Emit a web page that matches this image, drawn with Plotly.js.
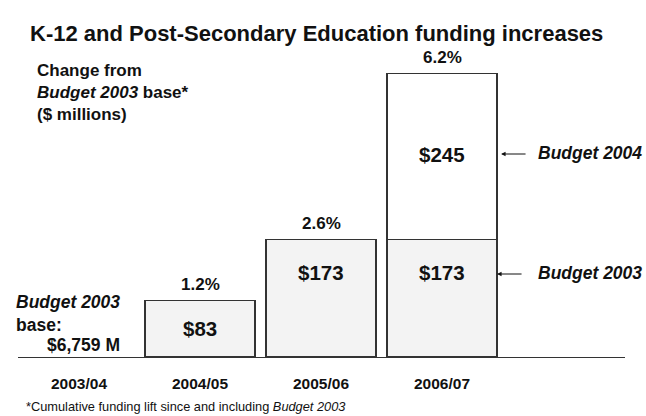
<!DOCTYPE html>
<html>
<head>
<meta charset="utf-8">
<script src="https://cdn.plot.ly/plotly-3.0.1.min.js"></script>
<style>html,body{margin:0;padding:0;background:#fff;}#chart{width:646px;height:416px;}</style>
</head>
<body>
<div id="chart"></div>
<script>
// ---- data ----
var categories = ['2003/04', '2004/05', '2005/06', '2006/07'];
var budget2003 = [null, 83, 173, 173];
var budget2004 = [null, null, null, 245];
var percentLabels = ['', '1.2%', '2.6%', '6.2%'];
var baseLabel = '$6,759 M';

// ---- layout helpers (pixel -> paper) ----
var W = 646, H = 416;
var M = {l: 18, r: 21, t: 40, b: 59};
var PW = W - M.l - M.r, PH = H - M.t - M.b;
function px(x) { return (x - M.l) / PW; }
function py(y) { return (H - M.b - y) / PH; }

var FONT = 'Liberation Sans, Arial, sans-serif';
var xs = categories.map(function (c, i) { return i; });
var barWidth = 0.91;

var traces = [
  {
    type: 'bar', x: xs, y: budget2003, width: barWidth, name: 'Budget 2003',
    marker: {color: '#f3f3f3', line: {color: '#333333', width: 1.2}},
    hoverinfo: 'none'
  },
  {
    type: 'bar', x: xs, y: budget2004, width: barWidth, name: 'Budget 2004',
    marker: {color: '#ffffff', line: {color: '#333333', width: 1.2}},
    hoverinfo: 'none'
  }
];

var ann = [];
// dollar labels: centred in short bars, near the top in tall ones
budget2003.forEach(function (v, i) {
  if (v == null) return;
  ann.push({x: xs[i], y: Math.max(v / 2, v - 48), xref: 'x', yref: 'y', yanchor: 'middle',
    text: '<b>$' + v + '</b>', showarrow: false, font: {family: FONT, size: 20.5, color: '#111'}});
});
budget2004.forEach(function (v, i) {
  if (v == null) return;
  ann.push({x: xs[i], y: budget2003[i] + v / 2, xref: 'x', yref: 'y', yanchor: 'middle', yshift: 2,
    text: '<b>$' + v + '</b>', showarrow: false, font: {family: FONT, size: 20.5, color: '#111'}});
});
// percent labels
percentLabels.forEach(function (p, i) {
  if (!p) return;
  var tot = (budget2003[i] || 0) + (budget2004[i] || 0);
  ann.push({x: xs[i], y: tot, xref: 'x', yref: 'y', yanchor: 'bottom', yshift: 5,
    text: '<b>' + p + '</b>', showarrow: false, font: {family: FONT, size: 17, color: '#111'}});
});
// left base label
ann.push({x: px(14), y: py(313), xref: 'paper', yref: 'paper', xanchor: 'left', yanchor: 'middle', align: 'left',
  text: '<b><i>Budget 2003</i></b><br><b>base:</b>', showarrow: false,
  font: {family: FONT, size: 17.5, color: '#111'}});
ann.push({x: px(122), y: py(345), xref: 'paper', yref: 'paper', xanchor: 'right', yanchor: 'middle',
  text: '<b>' + baseLabel + '</b>', showarrow: false, font: {family: FONT, size: 17.5, color: '#111'}});
// top-left description
ann.push({x: px(35), y: py(92), xref: 'paper', yref: 'paper', xanchor: 'left', yanchor: 'middle', align: 'left',
  text: '<b>Change from</b><br><b><i>Budget 2003</i> base*</b><br><b>($ millions)</b>', showarrow: false,
  font: {family: FONT, size: 17, color: '#111'}});
// right series labels with arrows
var last = xs.length - 1;
var edge = xs[last] + barWidth / 2;
var lab04y = 153, lab03y = 273;
ann.push({x: px(536), y: py(lab04y), xref: 'paper', yref: 'paper', xanchor: 'left', yanchor: 'middle',
  text: '<b><i>Budget 2004</i></b>', showarrow: false, font: {family: FONT, size: 17.5, color: '#111'}});
ann.push({x: px(536), y: py(lab03y), xref: 'paper', yref: 'paper', xanchor: 'left', yanchor: 'middle',
  text: '<b><i>Budget 2003</i></b>', showarrow: false, font: {family: FONT, size: 17.5, color: '#111'}});
ann.push({x: edge, y: py(lab04y + 1), xref: 'x', yref: 'paper', xshift: 4,
  text: '', showarrow: true, ax: 26, ay: 0, arrowhead: 2, arrowsize: 0.9, arrowwidth: 1, arrowcolor: '#111'});
ann.push({x: edge, y: py(lab03y + 1), xref: 'x', yref: 'paper', xshift: 0,
  text: '', showarrow: true, ax: 26, ay: 0, arrowhead: 2, arrowsize: 0.9, arrowwidth: 1, arrowcolor: '#111'});
// footnote
ann.push({x: px(24), y: py(407), xref: 'paper', yref: 'paper', xanchor: 'left', yanchor: 'middle',
  text: '*Cumulative funding lift since and including <i>Budget 2003</i>', showarrow: false,
  font: {family: FONT, size: 12.8, color: '#111'}});

var layout = {
  width: W, height: H,
  margin: M,
  paper_bgcolor: '#ffffff', plot_bgcolor: '#ffffff',
  barmode: 'stack',
  showlegend: false,
  title: {
    text: '<b>K-12 and Post-Secondary Education funding increases</b>',
    font: {family: FONT, size: 22, color: '#111'},
    x: 30 / W, xref: 'container', xanchor: 'left',
    y: 1 - 33 / H, yref: 'container', yanchor: 'middle'
  },
  xaxis: {
    type: 'linear',
    range: [(M.l - 79) / 121, (W - M.r - 79) / 121],
    tickvals: xs, ticktext: categories.map(function (c) { return '<b>' + c + '</b>'; }),
    tickfont: {family: FONT, size: 15.5, color: '#111'},
    ticks: '', ticklabelstandoff: 12,
    showgrid: false, zeroline: false,
    showline: true, linecolor: '#333333', linewidth: 1.2
  },
  yaxis: {
    range: [0, 468], visible: false, showgrid: false, zeroline: false, fixedrange: true
  },
  annotations: ann
};

Plotly.newPlot('chart', traces, layout, {displayModeBar: false, staticPlot: true});
</script>
</body>
</html>
